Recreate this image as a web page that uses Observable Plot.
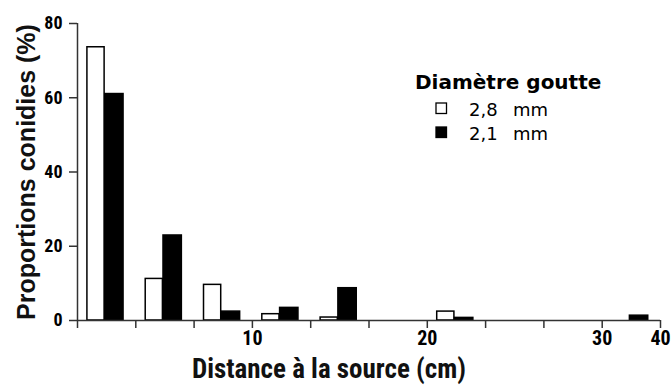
<!DOCTYPE html>
<html><head><meta charset="utf-8">
<script src="https://cdn.jsdelivr.net/npm/d3@7"></script>
<script src="https://cdn.jsdelivr.net/npm/@observablehq/plot@0.6"></script>
<style>body{margin:0;background:#fff}</style>
</head><body><div id="chart"></div>
<script>
// distance classes (slots along the x axis)
const bins = [1, 2, 3, 4, 5, 6, 7, 8, 9, 10];
// proportions of conidia (%) per drop diameter
const seriesNames = ["2,8 mm", "2,1 mm"];
const values28 = [73.6, 11.2, 9.6, 1.7, 0.8, 0, 2.4, 0, 0, 0];
const values21 = [61.0, 22.9, 2.4, 3.4, 8.7, 0, 0.7, 0, 0, 1.3];
// axis ticks
const xTicks = [0, 1, 2, 3, 4, 5, 6, 7, 8, 9, 10];
const xTickLabels = ["", "", "", "10", "", "", "20", "", "", "30", "40"];
const yTicks = [0, 20, 40, 60, 80];
const legendTitle = "Diamètre goutte";
const xTitle = "Distance à la source (cm)";
const yTitle = "Proportions conidies (%)";

const rows = [];
bins.forEach((b, i) => {
  rows.push({bin: b, serie: seriesNames[0], side: 0, value: values28[i]});
  rows.push({bin: b, serie: seriesNames[1], side: 1, value: values21[i]});
});
const off = [[0.17, 0.465], [0.475, 0.79]];

const narrow = "'Roboto Condensed', 'Liberation Sans', sans-serif";

const chart = Plot.plot({
  width: 671,
  height: 385,
  marginLeft: 77,
  marginRight: 11,
  marginTop: 23,
  marginBottom: 65,
  style: {background: "#fff", color: "#000"},
  x: {domain: [0, 10], axis: null},
  y: {domain: [0, 80], axis: null},
  marks: [
    Plot.rectY(rows, {
      x1: d => d.bin - 1 + off[d.side][0],
      x2: d => d.bin - 1 + off[d.side][1],
      y: "value",
      fill: d => d.side === 0 ? "#fff" : "#000",
      stroke: "#000",
      strokeWidth: 1.5
    }),
    Plot.ruleX([0], {y1: 0, y2: 80, stroke: "#333", strokeWidth: 1.5}),
    Plot.ruleY([0], {stroke: "#333", strokeWidth: 1.5}),
    Plot.axisY({ticks: yTicks, tickSize: 8, tickPadding: 7, stroke: "#333", strokeWidth: 1.5, fill: "#000",
      fontSize: 18, fontWeight: "bold", fontFamily: narrow, label: null}),
    Plot.axisX({ticks: xTicks, tickFormat: d => xTickLabels[d], tickSize: 8, tickPadding: 2, stroke: "#333", strokeWidth: 1.5, fill: "#000",
      fontSize: 20, fontWeight: "bold", fontFamily: narrow, label: null}),
    Plot.text([yTitle], {frameAnchor: "left", textAnchor: "middle", rotate: -90, dx: -51, fontSize: 25, fontWeight: "bold", fontFamily: "'Liberation Sans', Arial, sans-serif", fill: "#111"}),
    Plot.text([xTitle], {frameAnchor: "bottom", textAnchor: "middle", dx: -40, dy: 57, fontSize: 27, fontWeight: "bold", fontFamily: narrow, fill: "#111"})
  ]
});
document.getElementById("chart").appendChild(chart);

// legend inside the plot area
const svg = d3.select(chart);
const lg = svg.append("g").attr("font-family", "'DejaVu Sans', Verdana, sans-serif").attr("fill", "#000").attr("text-anchor", "start");
lg.append("text").attr("x", 415).attr("y", 89).attr("font-size", 20).attr("font-weight", "bold").text(legendTitle);
seriesNames.forEach((name, i) => {
  const y = 103 + i * 24;
  lg.append("rect").attr("x", 436).attr("y", y).attr("width", 10.5).attr("height", 10.5)
    .attr("fill", i === 0 ? "#fff" : "#000").attr("stroke", "#000").attr("stroke-width", 1.3);
  const parts = name.split(" ");
  const t = lg.append("text").attr("y", y + 13).attr("font-size", 18);
  t.append("tspan").attr("x", 469).text(parts[0]);
  t.append("tspan").attr("x", 513).text(parts[1]);
});
</script></body></html>
